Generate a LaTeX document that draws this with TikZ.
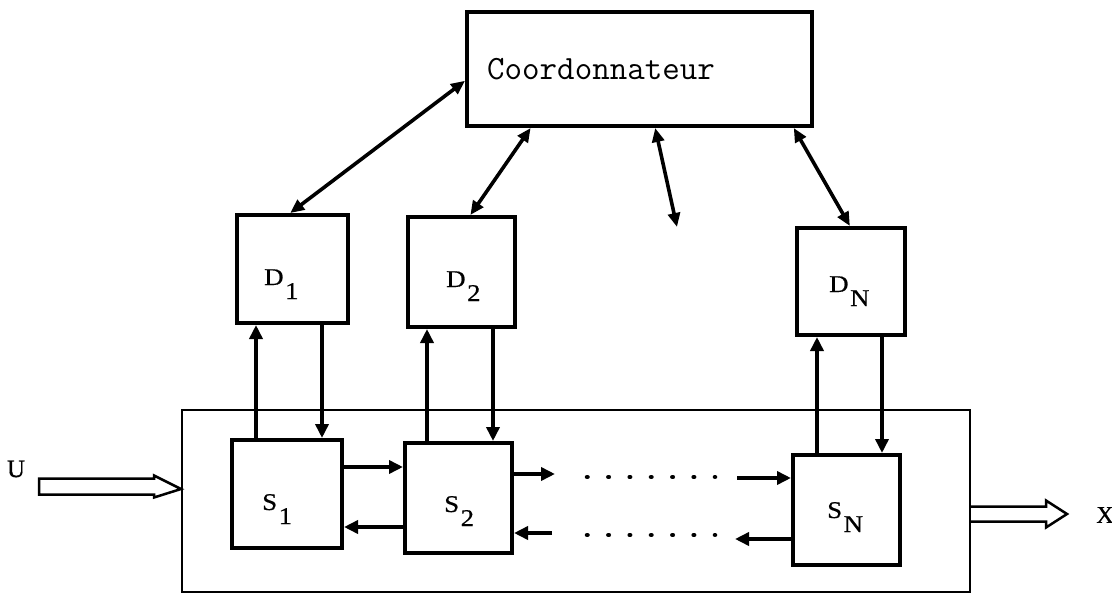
\documentclass[tikz,border=0pt]{standalone}
\usepackage{fontspec}
\newfontfamily\lblfont[FakeBold=0.6]{Liberation Serif}
\usetikzlibrary{arrows.meta,calc}
\newcommand\wlbl[2]{\scalebox{1.12}[1]{#1}\hspace{1.5pt}\raisebox{-14pt}{\scalebox{1.12}[1]{#2}}}
\begin{document}
\begin{tikzpicture}[x=1pt,y=-1pt,
  blk/.style={draw,line width=4pt,inner sep=0pt},
  lbl/.style={inner sep=0pt,anchor=base west,font=\lblfont\fontsize{24}{24}\selectfont},
  arr/.style={line width=3.6pt,-{Triangle[length=14pt,width=13pt]}},
  dbl/.style={line width=3.6pt,{Triangle[length=14pt,width=12pt]}-{Triangle[length=14pt,width=12pt]}},
  hollow/.style={line width=2.5pt,line join=miter},
  dotrow/.style={line width=4.5pt,line cap=round,dash pattern=on 0.5pt off 20.83pt}]
\useasboundingbox (0,0) rectangle (1112,602);

% system frame
\node[draw,line width=2pt,inner sep=0pt,minimum width=788pt,minimum height=182pt] (sys) at (576,501) {};

% boxes
\node[blk,minimum width=345pt,minimum height=114pt] (coord) at (639.5,69) {};
\node[blk,minimum width=111pt,minimum height=108pt] (D1) at (292.5,269) {};
\node[blk,minimum width=107pt,minimum height=110pt] (D2) at (461.5,272) {};
\node[blk,minimum width=108pt,minimum height=107pt] (DN) at (851,281.5) {};
\node[blk,fill=white,minimum width=110pt,minimum height=108pt] (S1) at (287,494) {};
\node[blk,fill=white,minimum width=107pt,minimum height=110pt] (S2) at (458.5,498) {};
\node[blk,fill=white,minimum width=107pt,minimum height=110pt] (SN) at (846.5,510) {};

% labels
\node[inner sep=0pt,anchor=base west,font=\ttfamily\addfontfeatures{FakeBold=0.7}\fontsize{34}{34}\selectfont] (coordtxt) at (487,80) {Coordonnateur};
\node[lbl] (d1t) at (264,285) {\wlbl{D}{1}};
\node[lbl] (d2t) at (446,287) {\wlbl{D}{2}};
\node[lbl] (dnt) at (829,292) {\wlbl{D}{N}};
\node[lbl] (s1t) at (262,510) {\wlbl{S}{1}};
\node[lbl] (s2t) at (444,512) {\wlbl{S}{2}};
\node[lbl] (snt) at (827,518) {\wlbl{S}{N}};
\node[inner sep=0pt,font=\lblfont\fontsize{25}{25}\selectfont] (ulab) at (16,469) {U};
\node[inner sep=0pt,font=\lblfont\fontsize{24}{24}\selectfont] (xlab) at (1105,515) {X};

% coordinator links
\coordinate (mfree) at (677,227);
\draw[dbl] ($(coord.north west)!0.6!(coord.south west)$) -- ($(D1.north west)!0.48!(D1.north east)$);
\draw[dbl] ($(coord.south west)!0.188!(coord.south east)$) -- ($(D2.north west)!0.58!(D2.north east)$);
\draw[dbl] ($(coord.south west)!0.545!(coord.south east)$) -- (mfree);
\draw[dbl] ($(coord.south west)!0.942!(coord.south east)$) -- ($(DN.north west)!0.49!(DN.north east)$);

% D <-> S vertical links
\draw[arr] (S1.north -| 256,0) -- (D1.south -| 256,0);
\draw[arr] (D1.south -| 322,0) -- (S1.north -| 322,0);
\draw[arr] (S2.north -| 427,0) -- (D2.south -| 427,0);
\draw[arr] (D2.south -| 493,0) -- (S2.north -| 493,0);
\draw[arr] (SN.north -| 817,0) -- (DN.south -| 817,0);
\draw[arr] (DN.south -| 882,0) -- (SN.north -| 882,0);

% S chain
\coordinate (o2) at (555,474);
\coordinate (inN) at (737,478);
\coordinate (outN) at (735,539);
\coordinate (in2) at (552,533);
\draw[arr] (S1.east |- 0,467) -- (S2.west |- 0,467);
\draw[arr] (S2.west |- 0,527) -- (S1.east |- 0,527);
\draw[arr] (S2.east |- 0,474) -- (o2);
\draw[arr] (inN) -- (SN.west |- 0,478);
\draw[arr] (SN.west |- 0,539) -- (outN);
\draw[arr] (in2) -- (S2.east |- 0,533);
\draw[dotrow] (587,477) -- (715,477);
\draw[dotrow] (587,535) -- (715,535);

% input / output hollow arrows
\coordinate (utip) at (sys.west |- 0,489);
\draw[hollow] (utip) -- ++(-27,-13.5) -- ++(0,3) -- ++(-115,0) -- ++(0,16) -- ++(115,0) -- ++(0,3) -- cycle;
\coordinate (xbase) at (sys.east |- 0,514);
\draw[hollow] ($(xbase)+(0,-7.5)$) -- ++(75,0) -- ++(0,-6) -- ++(21,13.5) -- ++(-21,13.5) -- ++(0,-6) -- ++(-75,0);
\end{tikzpicture}
\end{document}
